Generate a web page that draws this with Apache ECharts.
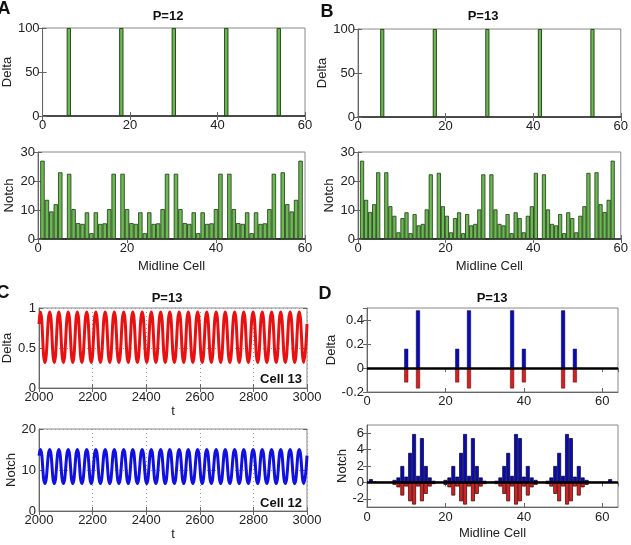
<!DOCTYPE html>
<html>
<head>
<meta charset="utf-8">
<script src="https://cdn.jsdelivr.net/npm/echarts@6/dist/echarts.min.js"></script>
<style>
  html, body { margin: 0; padding: 0; background: #fff; }
  #chart { width: 631px; height: 545px; }
</style>
</head>
<body>
<div id="chart"></div>
<script>
// A: P=12, midline cells 1..59
const aDeltaCells = [6, 18, 30, 42, 54];
const aDeltaVals = [100, 100, 100, 100, 100];
const aNotch = [
  27, 13.5, 9.5, 12, 23, 0,
  22.5, 10.3, 5.5, 5.2, 9.2, 2.0, 9.2, 5.2, 5.4, 10.3, 22.5, 0,
  22.5, 10.3, 5.5, 5.2, 9.2, 2.0, 9.2, 5.2, 5.4, 10.3, 22.5, 0,
  22.5, 10.3, 5.5, 5.2, 9.2, 2.0, 9.2, 5.2, 5.4, 10.3, 22.5, 0,
  22.5, 10.3, 5.5, 5.2, 9.2, 2.0, 9.2, 5.2, 5.4, 10.3, 22.5, 0,
  23, 12, 9.5, 13.5, 27
];

// B: P=13, midline cells 1..63
const bDeltaCells = [6, 19, 32, 45, 58];
const bDeltaVals = [100, 100, 100, 100, 100];
const bNotch = [
  27, 13.5, 9.3, 12, 23, 0,
  23, 11.3, 8, 2.3, 7.2, 9.2, 2.0, 8.6, 4.7, 5.2, 10.2, 22.3, 0,
  22.8, 11.3, 8, 2.3, 7.2, 9.2, 2.0, 8.6, 4.7, 5.2, 10.2, 22.3, 0,
  22.3, 10.2, 5.2, 4.7, 8.6, 2.0, 9.2, 7.2, 2.3, 8, 11.3, 22.8, 0,
  22.3, 10.2, 5.2, 4.7, 8.6, 2.0, 9.2, 7.2, 2.3, 8, 11.3, 22.8, 0,
  23, 12, 9.3, 13.5, 27
];

// C: time courses
const cTimes = [
  2000, 2005, 2022, 2040, 2057, 2074, 2091, 2109, 2126, 2143, 2160, 2178, 2195,
  2212, 2229, 2247, 2264, 2281, 2298, 2316, 2333, 2350, 2367, 2385, 2402, 2419,
  2436, 2454, 2471, 2488, 2505, 2523, 2540, 2557, 2574, 2592, 2609, 2626, 2643,
  2661, 2678, 2695, 2712, 2730, 2747, 2764, 2781, 2799, 2816, 2833, 2850, 2868,
  2885, 2902, 2919, 2937, 2954, 2971, 2988, 3000
];
const cDelta = [
  0.8, 0.95, 0.32, 0.95, 0.32, 0.95, 0.32, 0.95, 0.32, 0.95, 0.32, 0.95, 0.32,
  0.95, 0.32, 0.95, 0.32, 0.95, 0.32, 0.95, 0.32, 0.95, 0.32, 0.95, 0.32, 0.95,
  0.32, 0.95, 0.32, 0.95, 0.32, 0.95, 0.32, 0.95, 0.32, 0.95, 0.32, 0.95, 0.32,
  0.95, 0.32, 0.95, 0.32, 0.95, 0.32, 0.95, 0.32, 0.95, 0.32, 0.95, 0.32, 0.95,
  0.32, 0.95, 0.32, 0.95, 0.32, 0.95, 0.32, 0.8
];
const cNotch = [
  13.5, 15, 6.7, 15, 6.7, 15, 6.7, 15, 6.7, 15, 6.7, 15, 6.7,
  15, 6.7, 15, 6.7, 15, 6.7, 15, 6.7, 15, 6.7, 15, 6.7, 15,
  6.7, 15, 6.7, 15, 6.7, 15, 6.7, 15, 6.7, 15, 6.7, 15, 6.7,
  15, 6.7, 15, 6.7, 15, 6.7, 15, 6.7, 15, 6.7, 15, 6.7, 15,
  6.7, 15, 6.7, 15, 6.7, 15, 6.7, 13.5
];

// D: perturbation, P=13
const dTopCells = [10, 13, 23, 26, 37, 40, 50, 53];
const dTopUp = [0.16, 0.48, 0.16, 0.48, 0.48, 0.16, 0.48, 0.16];
const dTopDown = [-0.12, -0.17, -0.12, -0.17, -0.17, -0.12, -0.17, -0.12];
const dNotchUp = [
  0.4, 0.1, 0, 0, 0, 0,
  0.3, 0.6, 2.0, 0.7, 3.6, 5.9, 0.8, 5.4, 2.0, 0.6, 0.2, 0, 0,
  0.3, 0.6, 2.0, 0.7, 3.6, 5.9, 0.8, 5.4, 2.0, 0.6, 0.2, 0, 0,
  0.2, 0.6, 2.0, 3.6, 0.8, 5.9, 5.4, 0.7, 2.0, 0.6, 0.3, 0, 0,
  0.2, 0.6, 2.0, 3.6, 0.8, 5.9, 5.4, 0.7, 2.0, 0.6, 0.3,
  0, 0, 0, 0, 0, 0.4, 0
];
const dNotchDown = [
  0, 0, 0, 0, 0, 0,
  -0.3, -0.6, -1.6, -0.5, -2.3, -2.7, -0.5, -2.3, -1.4, -0.5, -0.2, 0, 0,
  -0.3, -0.6, -1.6, -0.5, -2.3, -2.7, -0.5, -2.3, -1.4, -0.5, -0.2, 0, 0,
  -0.2, -0.5, -1.4, -2.3, -0.5, -2.7, -2.3, -0.5, -1.6, -0.6, -0.3, 0, 0,
  -0.2, -0.5, -1.4, -2.3, -0.5, -2.7, -2.3, -0.5, -1.6, -0.6, -0.3,
  0, 0, 0, 0, 0, 0, 0
];
const dNotchTicks = [-2, 0, 2, 4, 6];

const FONT = "'Liberation Sans', Arial, sans-serif";
const green = "#6cb852";
const greenEdge = "#1d3814";
const blue = "#0a0ab0";
const red = "#d42020";

const byCell = (vals) => vals.map((v, i) => [i + 1, v]);
const pairs = (xs, ys) => xs.map((x, i) => [x, ys[i]]);

const labelStyle = { color: "#222", fontSize: 13, fontFamily: FONT, margin: 3, formatter: (v) => String(v) };
const tickStyle = { show: true, inside: true, length: 4, lineStyle: { color: "#666" } };

const baseAxis = (extra) => Object.assign({
  type: "value",
  axisLine: { show: true, onZero: false, lineStyle: { color: "#666" } },
  axisTick: tickStyle,
  axisLabel: labelStyle,
  splitLine: { show: false },
  nameTextStyle: { color: "#222", fontSize: 13, fontFamily: FONT },
  nameLocation: "middle",
}, extra);

const xCell = (grid, name) => baseAxis({
  gridIndex: grid, min: 0, max: 60, interval: 20,
  name: name || "", nameGap: 21,
  axisLine: { show: true, onZero: false, lineStyle: { color: "#222", width: 1.5 } },
});
const hiddenX = (grid, max) => ({
  type: "value", gridIndex: grid, min: 0, max: max, show: false,
});
// box ticks on the top / right edges, no labels
const mirrorX = (grid, min, max, interval) => ({
  type: "value", gridIndex: grid, position: "top", min, max, interval,
  axisLine: { show: false }, axisLabel: { show: false }, splitLine: { show: false },
  axisTick: tickStyle,
});
const mirrorY = (grid, min, max, interval, custom) => ({
  type: "value", gridIndex: grid, position: "right", min, max, interval,
  axisLine: { show: false }, axisLabel: { show: false }, splitLine: { show: false },
  axisTick: custom ? Object.assign({}, tickStyle, { customValues: custom }) : tickStyle,
});
const yAx = (grid, min, max, interval, name, gap) => baseAxis({
  gridIndex: grid, min, max, interval, name, nameGap: gap, nameRotate: 90,
  axisLabel: Object.assign({}, labelStyle, { showMaxLabel: max % interval === 0 }),
});
const dotted = { show: true, lineStyle: { color: "#999", type: [1, 3], width: 1 } };

const gridStyle = { show: true, borderColor: "#888", borderWidth: 1, backgroundColor: "#fff" };

const chart = echarts.init(document.getElementById("chart"), null, { renderer: "canvas" });

const textEl = (text, x, y, size, align, bold) => ({
  type: "text", x, y,
  style: {
    text, fill: "#111", font: `${bold ? "bold " : ""}${size}px ${FONT}`,
    align: align || "center", verticalAlign: "middle",
  },
});

chart.setOption({
  animation: false,
  grid: [
    Object.assign({ left: 38, top: 28, width: 267, height: 88 }, gridStyle),
    Object.assign({ left: 38, top: 152, width: 267, height: 87 }, gridStyle),
    Object.assign({ left: 358, top: 29, width: 267, height: 88 }, gridStyle),
    Object.assign({ left: 358, top: 152, width: 267, height: 87 }, gridStyle),
    Object.assign({ left: 39, top: 308, width: 268, height: 80 }, gridStyle),
    Object.assign({ left: 39, top: 429, width: 268, height: 82 }, gridStyle),
    Object.assign({ left: 367, top: 308, width: 251, height: 84 }, gridStyle),
    Object.assign({ left: 367, top: 425, width: 251, height: 82 }, gridStyle),
  ],
  xAxis: [
    xCell(0),
    xCell(1, "Midline Cell"),
    xCell(2),
    xCell(3, "Midline Cell"),
    baseAxis({ gridIndex: 4, min: 2000, max: 3000, interval: 200, name: "t", nameGap: 15, splitLine: dotted }),
    baseAxis({ gridIndex: 5, min: 2000, max: 3000, interval: 200, name: "t", nameGap: 17, splitLine: dotted }),
    baseAxis({ gridIndex: 6, min: 0, max: 64, interval: 20,
      axisLabel: Object.assign({}, labelStyle, { showMaxLabel: false }) }),
    baseAxis({ gridIndex: 7, min: 0, max: 64, interval: 20, name: "Midline Cell", nameGap: 20,
      axisLabel: Object.assign({}, labelStyle, { margin: 4, showMaxLabel: false }) }),
    hiddenX(2, 65),
    hiddenX(3, 65),
    mirrorX(0, 0, 60, 20),
    mirrorX(1, 0, 60, 20),
    mirrorX(2, 0, 60, 20),
    mirrorX(3, 0, 60, 20),
    mirrorX(4, 2000, 3000, 200),
    mirrorX(5, 2000, 3000, 200),
    mirrorX(6, 0, 64, 20),
    mirrorX(7, 0, 64, 20),
  ],
  yAxis: [
    yAx(0, 0, 100, 50, "Delta", 22),
    yAx(1, 0, 30, 10, "Notch", 22),
    yAx(2, 0, 100, 50, "Delta", 22),
    yAx(3, 0, 30, 10, "Notch", 22),
    Object.assign(yAx(4, 0, 1, 0.5, "Delta", 23), { splitLine: dotted }),
    Object.assign(yAx(5, 0, 20, 10, "Notch", 19), { splitLine: dotted }),
    yAx(6, -0.2, 0.5, 0.2, "Delta", 22),
    baseAxis({
      gridIndex: 7, min: -3, max: 7, name: "Notch", nameGap: 16, nameRotate: 90,
      axisLabel: Object.assign({}, labelStyle, { customValues: dNotchTicks }),
      axisTick: Object.assign({}, tickStyle, { customValues: dNotchTicks }),
    }),
    mirrorY(0, 0, 100, 50),
    mirrorY(1, 0, 30, 10),
    mirrorY(2, 0, 100, 50),
    mirrorY(3, 0, 30, 10),
    mirrorY(4, 0, 1, 0.5),
    mirrorY(5, 0, 20, 10),
    mirrorY(6, -0.2, 0.5, 0.2),
    mirrorY(7, -3, 7, null, dNotchTicks),
  ],
  series: [
    {
      type: "bar", xAxisIndex: 0, yAxisIndex: 0, barWidth: 4.3,
      data: pairs(aDeltaCells, aDeltaVals),
      itemStyle: { color: green, borderColor: greenEdge, borderWidth: 0.9 },
    },
    {
      type: "bar", xAxisIndex: 1, yAxisIndex: 1, barWidth: 4.4,
      data: byCell(aNotch),
      itemStyle: { color: green, borderColor: greenEdge, borderWidth: 0.8 },
    },
    {
      type: "bar", xAxisIndex: 8, yAxisIndex: 2, barWidth: 4.1,
      data: pairs(bDeltaCells, bDeltaVals),
      itemStyle: { color: green, borderColor: greenEdge, borderWidth: 0.9 },
    },
    {
      type: "bar", xAxisIndex: 9, yAxisIndex: 3, barWidth: 4.1,
      data: byCell(bNotch),
      itemStyle: { color: green, borderColor: greenEdge, borderWidth: 0.8 },
    },
    {
      type: "line", xAxisIndex: 4, yAxisIndex: 4, smooth: 0.5, showSymbol: false,
      data: pairs(cTimes, cDelta),
      lineStyle: { color: "#e81010", width: 3 },
    },
    {
      type: "line", xAxisIndex: 5, yAxisIndex: 5, smooth: 0.5, showSymbol: false,
      data: pairs(cTimes, cNotch),
      lineStyle: { color: "#1010e0", width: 3 },
    },
    {
      type: "bar", xAxisIndex: 6, yAxisIndex: 6, barWidth: 4, barGap: "-100%",
      data: pairs(dTopCells, dTopUp),
      itemStyle: { color: blue, borderColor: "#000050", borderWidth: 0.5 },
      markLine: {
        silent: true, symbol: "none", label: { show: false },
        lineStyle: { color: "#000", width: 2.5, type: "solid" },
        data: [{ yAxis: 0 }],
      },
      z: 2,
    },
    {
      type: "bar", xAxisIndex: 6, yAxisIndex: 6, barWidth: 4, barGap: "-100%",
      data: pairs(dTopCells, dTopDown),
      itemStyle: { color: red, borderColor: "#500000", borderWidth: 0.5 },
      z: 1,
    },
    {
      type: "bar", xAxisIndex: 7, yAxisIndex: 7, barWidth: 3.9, barGap: "-100%",
      data: byCell(dNotchUp),
      itemStyle: { color: blue, borderColor: "#000030", borderWidth: 0.7 },
      markLine: {
        silent: true, symbol: "none", label: { show: false },
        lineStyle: { color: "#000", width: 2.5, type: "solid" },
        data: [{ yAxis: 0 }],
      },
      z: 2,
    },
    {
      type: "bar", xAxisIndex: 7, yAxisIndex: 7, barWidth: 3.9, barGap: "-100%",
      data: byCell(dNotchDown),
      itemStyle: { color: red, borderColor: "#300000", borderWidth: 0.7 },
      z: 1,
    },
  ],
  graphic: [
    textEl("A", 4, 9, 18, "center", true),
    textEl("B", 327, 12, 18, "center", true),
    textEl("C", 3, 293, 18, "center", true),
    textEl("D", 325, 294, 18, "center", true),
    textEl("P=12", 168, 16, 13, "center", true),
    textEl("P=13", 483, 16, 13, "center", true),
    textEl("P=13", 167, 298, 13, "center", true),
    textEl("P=13", 492, 298, 13, "center", true),
    textEl("Cell 13", 302, 379, 13, "right", true),
    textEl("Cell 12", 302, 503, 13, "right", true),
  ],
});
</script>
</body>
</html>
